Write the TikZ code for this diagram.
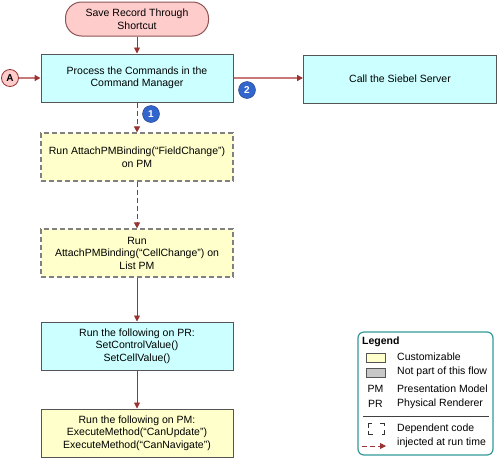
\documentclass[tikz,border=0pt]{standalone}
\usepackage{fontspec}
\setmainfont{Liberation Sans}
\usetikzlibrary{arrows.meta}
\definecolor{cyanfill}{HTML}{CCFFFF}
\definecolor{yelfill}{HTML}{FFFFCC}
\definecolor{pinkfill}{HTML}{FFCCCC}
\definecolor{boxedge}{HTML}{555555}
\definecolor{dashedge}{HTML}{808080}
\definecolor{darkred}{HTML}{993333}
\definecolor{lightred}{HTML}{C87878}
\definecolor{numblue}{HTML}{3366CC}
\definecolor{legteal}{HTML}{339999}

\tikzset{
  every node/.style={font=\fontsize{10.5}{12.5}\selectfont},
  procbox/.style={draw=boxedge, line width=1pt, fill=cyanfill, minimum width=192pt,
    minimum height=48pt, align=center},
  custbox/.style={procbox, fill=yelfill},
  injbox/.style={custbox, draw=dashedge, line width=1.2pt, dash pattern=on 5pt off 3pt},
  numdot/.style={circle, draw=numblue!60!black, fill=numblue, text=white,
    minimum size=17pt, inner sep=0pt, font=\fontsize{10}{12}\selectfont\bfseries},
  flow/.style={draw=darkred, line width=0.9pt, -{Triangle[length=6pt,width=6pt]}},
  thinflow/.style={draw=lightred, line width=1.4pt, -{Triangle[length=6pt,width=6pt,color=darkred]}},
  depflow/.style={flow, dash pattern=on 5pt off 3pt}
}

\begin{document}
\begin{tikzpicture}[x=1pt,y=-1pt]
\useasboundingbox (0,0) rectangle (497,458);

% main flow
\node[draw=lightred!70!black, line width=1pt, fill=pinkfill, rounded corners=16pt,
  minimum width=143pt, minimum height=34pt, align=center] (start) at (137,19)
  {Save Record Through\\Shortcut};
\node[procbox] (cmd) at (137,78) {Process the Commands in the\\Command Manager};
\node[procbox, minimum width=193pt] (siebel) at (400,79) {Call the Siebel Server};
\node[injbox] (fldbind) at (137,157) {Run AttachPMBinding(“FieldChange”)\\on PM};
\node[injbox] (cellbind) at (137,253) {Run\\AttachPMBinding(“CellChange”) on\\List PM};
\node[procbox] (setpr) at (137,346) {Run the following on PR:\\SetControlValue()\\SetCellValue()};
\node[custbox] (execpm) at (137,433) {Run the following on PM:\\ExecuteMethod(“CanUpdate”)\\ExecuteMethod(“CanNavigate”)};

\node[circle, draw=darkred, line width=0.8pt, fill=pinkfill, minimum size=17pt, inner sep=0pt,
  font=\fontsize{10}{12}\selectfont\bfseries] (circA) at (10,78) {A};
\node[numdot] (numone) at (151,114) {1};
\node[numdot] (numtwo) at (247,90) {2};

\draw[flow] (start) -- (cmd);
\draw[thinflow] (circA) -- (cmd);
\draw[thinflow] (cmd.east |- 0,78) -- (siebel.west |- 0,78);
\draw[depflow] (cmd) -- (fldbind);
\draw[depflow] (fldbind) -- (cellbind);
\draw[flow] (cellbind) -- (setpr);
\draw[flow] (setpr) -- (execpm);

% legend
\draw[legteal, line width=1.2pt, rounded corners=6pt] (358,332) rectangle (493,455);
\node[anchor=west, inner sep=0pt, font=\fontsize{10.5}{12.5}\selectfont\bfseries] (legtitle) at (362,342) {Legend};
\draw[boxedge, line width=0.8pt, fill=yelfill] (366,353) rectangle (385,362);
\draw[boxedge, line width=0.8pt, fill=black!22] (366,368) rectangle (385,377);
\node[inner sep=0pt] (pmkey) at (375.5,389) {PM};
\node[inner sep=0pt] (prkey) at (375.5,404) {PR};
\node[anchor=west, inner sep=0pt] (custtxt) at (397,357) {Customizable};
\node[anchor=west, inner sep=0pt] (nottxt) at (397,372) {Not part of this flow};
\node[anchor=west, inner sep=0pt] (pmtxt) at (397,389) {Presentation Model};
\node[anchor=west, inner sep=0pt] (prtxt) at (397,404) {Physical Renderer};
\draw[black!75, line width=0.9pt] (363,416) -- (489,416);
\begin{scope}[black!80, line width=1pt]
  \draw (372,423) -- (368,423) -- (368,428);
  \draw (380,423) -- (384,423) -- (384,426);
  \draw (368,431) -- (368,434) -- (373,434);
  \draw (384,430) -- (384,434) -- (382,434);
\end{scope}
\node[anchor=west, inner sep=0pt] (deptxt) at (397,429) {Dependent code};
\node[anchor=west, inner sep=0pt] (injtxt) at (397,443) {injected at run time};
\coordinate (keyL) at (362,446);
\coordinate (keyR) at (386,446);
\draw[depflow] (keyL) -- (keyR);
\end{tikzpicture}
\end{document}
